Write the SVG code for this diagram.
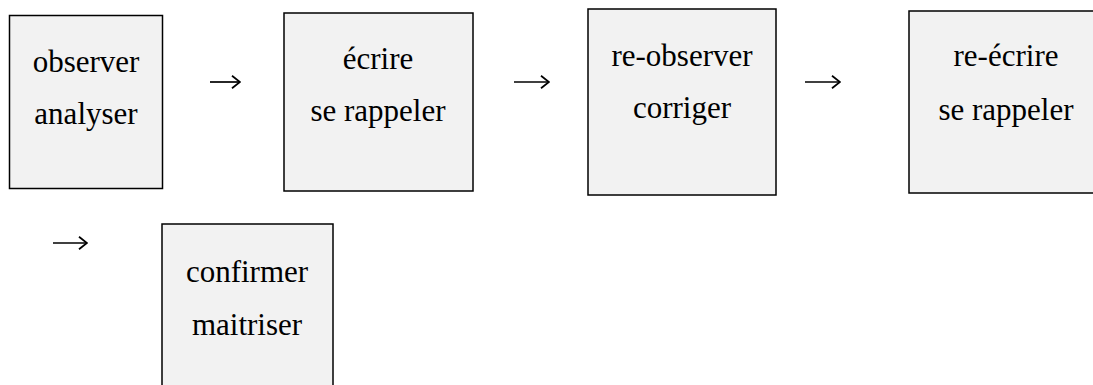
<svg xmlns="http://www.w3.org/2000/svg" width="1093" height="385" viewBox="0 0 1093 385">
<style>
.box{fill:#f2f2f2;stroke:#000;stroke-width:1.5}
.t{font-family:"Liberation Serif","Times New Roman",serif;font-size:31px;fill:#000;text-anchor:middle}
.arr{fill:none;stroke:#000;stroke-width:1.7}
</style>
<defs>
<marker id="head" viewBox="0 0 10 14" refX="9" refY="7" markerWidth="10" markerHeight="14" markerUnits="userSpaceOnUse" orient="auto">
<path d="M1,0.8 L9,7 L1,13.2" fill="none" stroke="#000" stroke-width="1.8"/>
</marker>
</defs>
<rect width="1093" height="385" fill="#fff"/>
<g id="n1"><rect class="box" x="9.5" y="15.5" width="153" height="173"/><text class="t" x="86" y="72">observer</text><text class="t" x="86" y="124">analyser</text></g>
<g id="n2"><rect class="box" x="284" y="13" width="189" height="178"/><text class="t" x="378" y="69">écrire</text><text class="t" x="378" y="121">se rappeler</text></g>
<g id="n3"><rect class="box" x="588" y="9" width="188" height="186"/><text class="t" x="682" y="66">re-observer</text><text class="t" x="682" y="118">corriger</text></g>
<g id="n4"><rect class="box" x="909" y="11" width="196" height="182"/><text class="t" x="1006" y="66">re-écrire</text><text class="t" x="1006" y="120">se rappeler</text></g>
<g id="n5"><rect class="box" x="162" y="224" width="171" height="200"/><text class="t" x="247" y="282">confirmer</text><text class="t" x="247" y="335">maitriser</text></g>
<g id="connectors">
<path class="arr" d="M210,82 H240" marker-end="url(#head)"/>
<path class="arr" d="M514,82 H549" marker-end="url(#head)"/>
<path class="arr" d="M805,82 H840" marker-end="url(#head)"/>
<path class="arr" d="M53,243 H87" marker-end="url(#head)"/>
</g>
</svg>
